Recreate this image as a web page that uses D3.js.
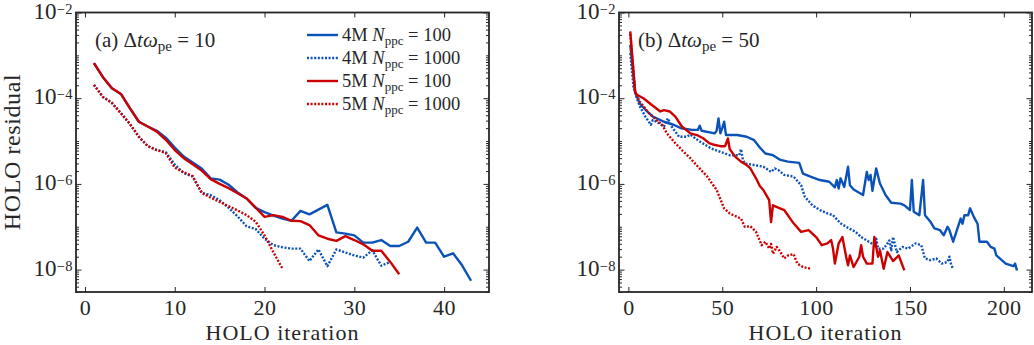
<!DOCTYPE html>
<html>
<head>
<meta charset="utf-8">
<script src="https://cdn.jsdelivr.net/npm/d3@7"></script>
<style>
    body { margin: 0; background: #fff; }
    svg, svg text, svg tspan { font-family: "Liberation Serif", "DejaVu Serif", serif !important; }
    svg text { fill: #262626; }
</style>
</head>
<body>
<div id="chart"></div>
<script>
// Vrijednosti su log10(HOLO residual), ocitane sa slike

// (a) dt*wpe = 10, iteracije 1..N
const a4M100 = [-3.18, -3.51, -3.77, -3.90, -4.23, -4.55, -4.66, -4.76, -4.92, -5.15, -5.36, -5.50, -5.64, -5.87, -5.90,
    -6.02, -6.20, -6.34, -6.56, -6.66, -6.74, -6.81, -6.86, -6.63, -6.71, -6.60, -6.49, -7.13, -7.16, -7.20,
    -7.37, -7.37, -7.31, -7.45, -7.45, -7.35, -7.02, -7.37, -7.37, -7.70, -7.62, -7.90, -8.26];
const a4M1000 = [-3.69, -3.97, -4.11, -4.35, -4.60, -4.90, -5.12, -5.21, -5.26, -5.55, -5.75, -5.83, -6.21, -6.26, -6.38,
    -6.56, -6.76, -6.99, -7.05, -7.28, -7.43, -7.48, -7.51, -7.51, -7.80, -7.53, -7.92, -7.53, -7.60, -7.67,
    -7.72, -7.55, -7.91, -7.82];
const a5M100 = [-3.18, -3.51, -3.77, -3.90, -4.23, -4.55, -4.66, -4.78, -4.97, -5.21, -5.40, -5.54, -5.69, -5.89, -6.00,
    -6.10, -6.22, -6.34, -6.55, -6.77, -6.73, -6.77, -6.86, -6.87, -6.96, -7.20, -7.28, -7.33, -7.22, -7.31,
    -7.41, -7.56, -7.56, -7.82, -8.11];
const a5M1000 = [-3.69, -3.97, -4.11, -4.35, -4.60, -4.90, -5.12, -5.21, -5.28, -5.62, -5.73, -5.82, -6.21, -6.32, -6.42,
    -6.52, -6.62, -6.73, -6.88, -7.20, -7.60, -7.98];

// (b) dt*wpe = 50, parovi [iteracija, log10 rezidual]
const b4M100 = [[1, -2.75], [3.6, -3.85], [6, -4.12], [10, -4.31], [13, -4.43], [19, -4.55], [24, -4.62], [28, -4.70],
    [34, -4.74], [37, -4.74], [38, -4.64], [39, -4.76], [46, -4.82], [47, -4.76], [48, -4.47], [49, -4.82], [50, -4.70],
    [51, -4.55], [52, -4.86], [58, -4.86], [63, -4.90], [67, -4.98], [70, -5.15], [73, -5.29], [77, -5.33], [81, -5.44],
    [85, -5.48], [91, -5.51], [93, -5.76], [97, -5.83], [102, -5.91], [107, -5.95], [110, -6.08], [111, -5.91],
    [112, -6.11], [113, -5.87], [115, -6.07], [117, -5.60], [118, -6.03], [120, -6.13], [125, -6.26], [127, -5.72],
    [128, -5.91], [129, -5.79], [130, -6.16], [132, -5.64], [134, -5.99], [137, -6.26], [140, -6.44], [145, -6.46],
    [147, -6.50], [150, -6.61], [151, -5.91], [152, -6.65], [155, -6.73], [157, -5.91], [158, -6.73], [161, -6.89],
    [163, -7.04], [166, -7.08], [168, -7.20], [170, -7.00], [171, -7.08], [173, -7.35], [175, -7.08], [177, -6.81],
    [178, -6.93], [179, -6.73], [181, -6.73], [182, -6.57], [184, -6.77], [186, -6.93], [187, -7.35], [191, -7.35],
    [193, -7.47], [195, -7.51], [196, -7.67], [201, -7.86], [205, -7.92], [206, -7.86], [207, -8.02]];
const b4M1000 = [[1, -2.95], [2.7, -3.73], [4.5, -4.00], [6, -4.18], [9, -4.43], [12, -4.62], [13, -4.51], [15, -4.55],
    [19, -4.66], [21, -4.47], [23, -4.66], [27, -4.90], [31, -4.90], [33, -4.85], [38, -5.01], [44, -5.17], [49, -5.25],
    [54, -5.33], [59, -5.33], [60, -5.19], [61, -5.44], [62, -5.52], [67, -5.56], [72, -5.60], [76, -5.72], [78, -5.64],
    [80, -5.68], [83, -5.79], [88, -5.83], [92, -6.03], [94, -6.30], [98, -6.50], [102, -6.61], [106, -6.69],
    [109, -6.73], [113, -6.92], [116, -7.00], [121, -7.12], [124, -7.24], [127, -7.32], [131, -7.43], [132, -7.28],
    [133, -7.51], [136, -7.51], [138, -7.39], [139, -7.32], [140, -7.55], [141, -7.24], [143, -7.59], [146, -7.47],
    [149, -7.51], [153, -7.39], [156, -7.43], [158, -7.74], [161, -7.78], [164, -7.74], [167, -7.86], [170, -7.82],
    [171, -7.70], [172, -7.90], [173, -7.98]];
const b5M100 = [[1, -2.44], [3.6, -3.85], [4.5, -3.92], [8, -4.00], [12.5, -4.16], [17, -4.31], [19, -4.28], [22, -4.31],
    [25, -4.43], [28.5, -4.66], [33, -4.82], [36.5, -4.86], [40, -4.94], [43, -5.05], [45, -5.08], [49, -5.12],
    [51.5, -5.12], [53, -4.94], [54, -5.19], [57, -5.37], [60, -5.48], [63, -5.56], [65, -5.64], [68, -5.87],
    [70, -6.05], [72, -6.15], [75, -6.38], [76, -6.89], [77, -6.50], [83, -6.61], [88, -6.92], [92, -7.12], [96, -7.08],
    [100, -7.24], [103, -7.43], [106, -7.39], [108, -7.31], [109, -7.51], [110, -7.86], [112, -7.39], [114, -7.24],
    [116, -7.70], [117, -7.90], [118, -7.67], [120, -7.94], [123, -7.70], [124, -7.43], [125, -7.70], [127, -7.86],
    [130, -7.86], [131, -7.24], [133, -7.70], [134, -7.55], [136, -7.98], [138, -7.59], [141, -7.80], [144, -7.67],
    [147, -8.02]];
const b5M1000 = [[1, -2.50], [3.6, -3.85], [6, -4.08], [11, -4.35], [15, -4.51], [18, -4.62], [20.5, -4.82], [25, -5.05],
    [28.5, -5.21], [33, -5.40], [35, -5.50], [42, -5.83], [47, -6.14], [51, -6.57], [54, -6.69], [60, -6.81], [62, -7.00],
    [65, -6.99], [68, -7.12], [71, -7.43], [73, -7.35], [75, -7.51], [76, -7.40], [77, -7.63], [79, -7.47], [81, -7.59],
    [83, -7.74], [85, -7.67], [88, -7.64], [90, -7.86], [93, -7.94], [97, -7.98]];

const xTicksA = [0, 10, 20, 30, 40];
const xTicksB = [0, 50, 100, 150, 200];
const yTickExp = [-2, -4, -6, -8];
const legendMesh = ["4M", "4M", "5M", "5M"];
const legendNppc = ["100", "1000", "100", "1000"];

const boje = ["#0b52b8", "#0b52b8", "#cc0000", "#cc0000"];
const crtkano = [null, "2,1.6", null, "2,1.6"];

const sirina = 1034, visina = 345;
const gore = 12.5, dolje = 292;
const tamna = "#262626";
const serif = "'Liberation Serif', 'DejaVu Serif', serif";

const svg = d3.select("#chart").append("svg")
    .attr("width", sirina)
    .attr("height", visina)
    .attr("font-family", serif);

function drawPanel(p) {
    const x = d3.scaleLinear().domain(p.xDomain).range([p.left, p.right]);
    const y = d3.scaleLog().domain([3e-9, 1e-2]).range([dolje, gore]);

    const g = svg.append("g");

    g.append("clipPath").attr("id", "clip" + p.id)
        .append("rect")
        .attr("x", p.left).attr("y", gore)
        .attr("width", p.right - p.left).attr("height", dolje - gore);

    // linije
    const line = d3.line()
        .x(d => x(d[0]))
        .y(d => y(Math.pow(10, d[1])));

    p.series.forEach((s, i) => {
        g.append("path")
            .datum(s)
            .attr("clip-path", `url(#clip${p.id})`)
            .attr("d", line)
            .attr("fill", "none")
            .attr("stroke", boje[i])
            .attr("stroke-width", 2.4)
            .attr("stroke-linejoin", "round")
            .attr("stroke-dasharray", crtkano[i]);
    });

    // osi
    const majorVals = yTickExp.map(e => Math.pow(10, e));
    const minorVals = y.ticks().filter(v => !majorVals.some(m => Math.abs(m - v) / m < 1e-6));

    const xb = g.append("g")
        .attr("transform", `translate(0,${dolje})`)
        .call(d3.axisBottom(x).tickValues(p.xTicks).tickSizeInner(-5).tickSizeOuter(0).tickPadding(7.5));
    xb.selectAll("text").style("font-size", "22px").style("letter-spacing", "0.5px");

    g.append("g")
        .attr("transform", `translate(0,${gore})`)
        .call(d3.axisTop(x).tickValues(p.xTicks).tickSizeInner(-5).tickSizeOuter(0).tickFormat(""));

    const yl = g.append("g")
        .attr("transform", `translate(${p.left},0)`)
        .call(d3.axisLeft(y).tickValues(majorVals).tickSizeInner(-5.5).tickSizeOuter(0).tickPadding(3));
    yl.selectAll(".tick text").each(function (d) {
        const t = d3.select(this).text(null).attr("dy", "5.5px").style("font-size", "23px");
        t.append("tspan").text("10");
        t.append("tspan").attr("dy", "-5").style("font-size", "14.5px").style("letter-spacing", "0.5px")
            .text("\u2212" + Math.abs(Math.round(Math.log10(d))));
    });

    g.append("g")
        .attr("transform", `translate(${p.left},0)`)
        .call(d3.axisLeft(y).tickValues(minorVals).tickSizeInner(-3).tickSizeOuter(0).tickFormat(""));
    g.append("g")
        .attr("transform", `translate(${p.right},0)`)
        .call(d3.axisRight(y).tickValues(majorVals).tickSizeInner(-5.5).tickSizeOuter(0).tickFormat(""));
    g.append("g")
        .attr("transform", `translate(${p.right},0)`)
        .call(d3.axisRight(y).tickValues(minorVals).tickSizeInner(-3).tickSizeOuter(0).tickFormat(""));

    g.selectAll(".domain").remove();
    g.selectAll(".tick line").attr("stroke", tamna).attr("stroke-width", 1);
    // d3 os postavlja sans-serif, vrati serif
    g.selectAll("g").attr("font-family", serif);

    // okvir
    g.append("rect")
        .attr("x", p.left).attr("y", gore)
        .attr("width", p.right - p.left).attr("height", dolje - gore)
        .attr("fill", "none")
        .attr("stroke", tamna)
        .attr("stroke-width", 1.8);

    // naslov osi x
    g.append("text")
        .attr("x", (p.left + p.right) / 2)
        .attr("y", 339.5)
        .attr("text-anchor", "middle")
        .style("font-size", "22px")
        .style("letter-spacing", "1px")
        .text("HOLO iteration");

    // oznaka panela
    const ann = g.append("text")
        .attr("x", p.left + 19)
        .attr("y", 46.5)
        .style("font-size", "21px");
    ann.append("tspan").text(p.tag + " \u0394");
    ann.append("tspan").style("font-style", "italic").text("t\u03c9");
    ann.append("tspan").attr("dy", 4).style("font-size", "15px").text("pe");
    ann.append("tspan").attr("dy", -4).text(" = " + p.dt);
}

drawPanel({ id: "a", left: 76, right: 489, xDomain: [-1, 45], xTicks: xTicksA, tag: "(a)", dt: "10",
    series: [a4M100, a4M1000, a5M100, a5M1000].map(arr => arr.map((v, i) => [i + 1, v])) });
drawPanel({ id: "b", left: 619, right: 1032, xDomain: [-5, 215], xTicks: xTicksB, tag: "(b)", dt: "50",
    series: [b4M100, b4M1000, b5M100, b5M1000] });

// naslov osi y
svg.append("text")
    .attr("transform", "rotate(-90)")
    .attr("x", -152)
    .attr("y", 20)
    .attr("text-anchor", "middle")
    .style("font-size", "24px")
    .style("letter-spacing", "0.6px")
    .text("HOLO residual");

// legenda
const legenda = svg.append("g");
legendMesh.forEach((m, i) => {
    const ry = 35 + i * 23;
    legenda.append("line")
        .attr("x1", 307).attr("x2", 338)
        .attr("y1", ry).attr("y2", ry)
        .attr("stroke", boje[i])
        .attr("stroke-width", 2.4)
        .attr("stroke-dasharray", crtkano[i]);
    const t = legenda.append("text")
        .attr("x", 342)
        .attr("y", ry + 5.5)
        .style("font-size", "18.5px");
    t.append("tspan").text(m + " ");
    t.append("tspan").style("font-style", "italic").text("N");
    t.append("tspan").attr("dy", 4).style("font-size", "13px").text("ppc");
    t.append("tspan").attr("dy", -4).text(" = " + legendNppc[i]);
});
</script>
</body>
</html>
